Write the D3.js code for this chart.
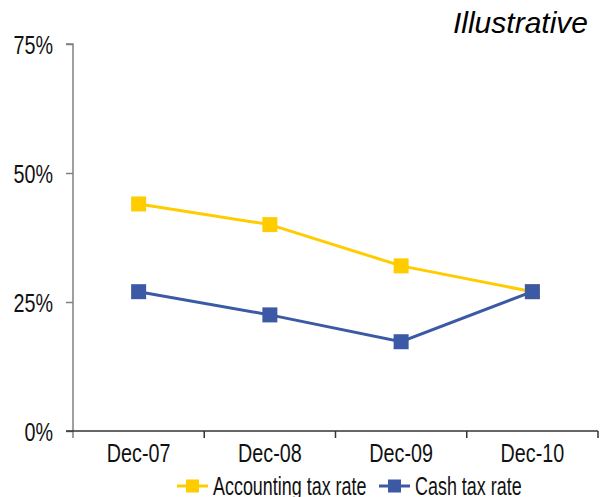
<!DOCTYPE html>
<html>
<head>
<meta charset="utf-8">
<script src="https://cdn.jsdelivr.net/npm/d3@7"></script>
<style>
    body { margin: 0; background: #fff; }
    svg text { font-family: "Liberation Sans", Arial, sans-serif; }
</style>
</head>
<body>
<div id="chart"></div>
<script>
const categories = ["Dec-07", "Dec-08", "Dec-09", "Dec-10"];
const accountingRate = [44, 40, 32, 27];
const cashRate = [27, 22.5, 17.3, 27];
const yTicks = [0, 25, 50, 75];
const seriesNames = ["Accounting tax rate", "Cash tax rate"];
const seriesColors = ["#FFCC00", "#3B59A5"];

const width = 600;
const height = 497;
const margin = { top: 44, right: 2, bottom: 66, left: 73 };
const narrow = 0.76; // fake a condensed face

const svg = d3.select("#chart")
    .append("svg")
    .attr("width", width)
    .attr("height", height);

const x = d3.scaleBand()
    .domain(categories)
    .range([margin.left, width - margin.right]);

const y = d3.scaleLinear()
    .domain([0, 75])
    .range([height - margin.bottom, margin.top]);

// y axis
const yAxis = svg.append("g")
    .attr("transform", `translate(${margin.left},0)`)
    .call(d3.axisLeft(y).tickValues(yTicks).tickSize(7).tickFormat(d => d + "%"));
yAxis.select(".domain").attr("stroke", "#808080").attr("stroke-width", 1.5)
    .attr("d", `M-7,${y(75)}H0V${y(0) + 7}`);
yAxis.selectAll(".tick line").attr("stroke", "#808080").attr("stroke-width", 1.5);
yAxis.selectAll(".tick text")
    .attr("font-size", 26)
    .attr("fill", "#111")
    .attr("x", -20 / narrow)
    .attr("dy", "0.36em")
    .attr("transform", `scale(${narrow},1)`);

// x axis
const xAxis = svg.append("g")
    .attr("transform", `translate(0,${y(0)})`)
    .call(d3.axisBottom(x).tickSize(0));
xAxis.select(".domain").attr("stroke", "#333").attr("stroke-width", 1.5)
    .attr("d", `M${margin.left - 7},0H${width - margin.right}`);
xAxis.selectAll(".tick text")
    .attr("font-size", 26)
    .attr("fill", "#111")
    .attr("y", 31)
    .attr("dy", 0)
    .attr("transform", `scale(${narrow},1)`);
xAxis.selectAll(".sep")
    .data(categories)
    .enter()
    .append("line")
    .attr("x1", d => x(d) + x.bandwidth())
    .attr("x2", d => x(d) + x.bandwidth())
    .attr("y1", 0)
    .attr("y2", 7)
    .attr("stroke", "#333")
    .attr("stroke-width", 1.5);

const line = d3.line()
    .x((d, i) => x(categories[i]) + x.bandwidth() / 2)
    .y(d => y(d));

[accountingRate, cashRate].forEach((values, s) => {
    svg.append("path")
        .datum(values)
        .attr("d", line)
        .attr("fill", "none")
        .attr("stroke", seriesColors[s])
        .attr("stroke-width", 3);
    svg.selectAll(".m" + s)
        .data(values)
        .enter()
        .append("rect")
        .attr("x", (d, i) => x(categories[i]) + x.bandwidth() / 2 - 7.5)
        .attr("y", d => y(d) - 7.5)
        .attr("width", 15)
        .attr("height", 15)
        .attr("fill", seriesColors[s]);
});

// legend
const legendX = [177, 379];
seriesNames.forEach((name, s) => {
    const g = svg.append("g").attr("transform", `translate(${legendX[s]},486)`);
    g.append("line").attr("x1", 0).attr("x2", 31).attr("stroke", seriesColors[s]).attr("stroke-width", 3);
    g.append("rect").attr("x", 9).attr("y", -6.5).attr("width", 13).attr("height", 13).attr("fill", seriesColors[s]);
    g.append("text")
        .attr("transform", `translate(${s === 0 ? 36 : 36},9) scale(0.69,1)`)
        .attr("font-size", 26)
        .attr("fill", "#111")
        .text(name);
});

svg.append("text")
    .attr("x", 588)
    .attr("y", 33)
    .attr("text-anchor", "end")
    .attr("font-size", 30)
    .attr("font-style", "italic")
    .text("Illustrative");
</script>
</body>
</html>
